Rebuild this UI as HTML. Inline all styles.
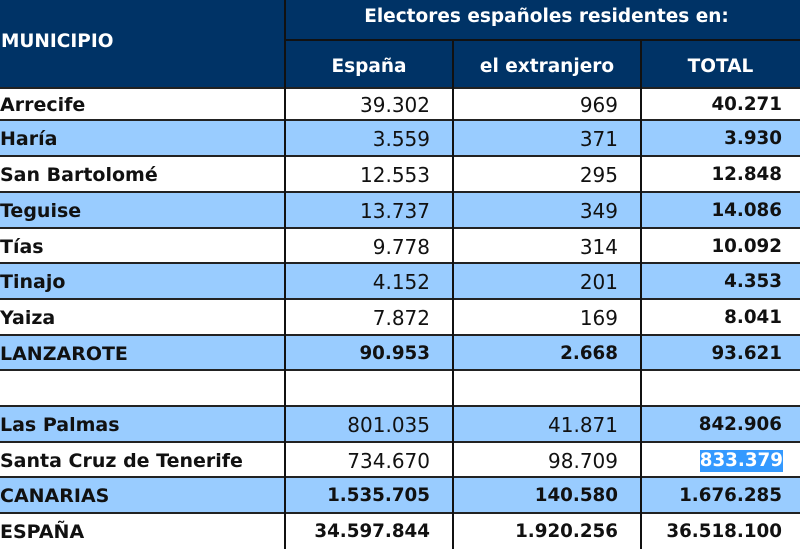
<!DOCTYPE html>
<html><head><meta charset="utf-8"><style>
html,body{margin:0;padding:0;width:800px;height:549px;overflow:hidden;background:#fff;font-family:"DejaVu Sans","Liberation Sans",sans-serif;}
.a{position:absolute;box-sizing:border-box;}
.hd{background:#003366;color:#fff;font-weight:bold;font-size:17px;}
.t{position:absolute;white-space:nowrap;font-size:19px;color:#111;line-height:22px;}
.n{font-size:20px;}
.n.b{font-size:18.3px;}
.h{font-size:18.5px;color:#fff;font-weight:bold;}
.b{font-weight:bold;}
.hl{background:#3399ff;color:#fff;}
</style></head><body>
<div class="a hd" style="left:0;top:0;width:800px;height:88px;"></div>
<div class="a" style="left:285px;top:39px;width:515px;height:2px;background:#111"></div>
<div class="t h" style="left:1px;top:31px">MUNICIPIO</div>
<div class="t h" style="left:289px;width:515px;text-align:center;top:6px">Electores españoles residentes en:</div>
<div class="t h" style="left:285px;width:168px;text-align:center;top:56px">España</div>
<div class="t h" style="left:453px;width:188px;text-align:center;top:56px">el extranjero</div>
<div class="t h" style="left:641px;width:159px;text-align:center;top:56px">TOTAL</div>
<div id="rows"></div>
<script>
var R=[["Arrecife","39.302","969","40.271",0],["Haría","3.559","371","3.930",0],["San Bartolomé","12.553","295","12.848",0],["Teguise","13.737","349","14.086",0],["Tías","9.778","314","10.092",0],["Tinajo","4.152","201","4.353",0],["Yaiza","7.872","169","8.041",0],["LANZAROTE","90.953","2.668","93.621",1],["","","","",0],["Las Palmas","801.035","41.871","842.906",0],["Santa Cruz de Tenerife","734.670","98.709","833.379",0],["CANARIAS","1.535.705","140.580","1.676.285",1],["ESPAÑA","34.597.844","1.920.256","36.518.100",1]];
var Y=[88,120,156,192,228,263,299,335,370,406,442,477,513,549];
var h="";
for(var i=0;i<R.length;i++){var r=R[i],y=Y[i],hh=Y[i+1]-y;
h+='<div class="a" style="left:0;top:'+y+'px;width:800px;height:'+hh+'px;background:'+(i%2?'#99ccff':'#fff')+'"></div>';
h+='<div class="a" style="left:0;top:'+(y-1)+'px;width:800px;height:2px;background:#222"></div>';
var ty=y+(hh-22)/2+1;
h+='<div class="t b" style="left:0px;top:'+ty+'px">'+r[0]+'</div>';
var bb=r[4]?' b':'';
h+='<div class="t n'+bb+'" style="right:370px;top:'+ty+'px">'+r[1]+'</div>';
h+='<div class="t n'+bb+'" style="right:182px;top:'+ty+'px">'+r[2]+'</div>';
if(i==10)h+='<div class="t n b hl" style="right:17px;top:'+ty+'px">'+r[3]+'</div>';
else h+='<div class="t n b" style="right:18px;top:'+ty+'px">'+r[3]+'</div>';
}
[[284,0],[452,40],[640,40]].forEach(function(c){h+='<div class="a" style="left:'+c[0]+'px;top:'+c[1]+'px;width:2px;height:'+(549-c[1])+'px;background:#111"></div>';});
document.getElementById("rows").innerHTML=h;
</script>
</body></html>
